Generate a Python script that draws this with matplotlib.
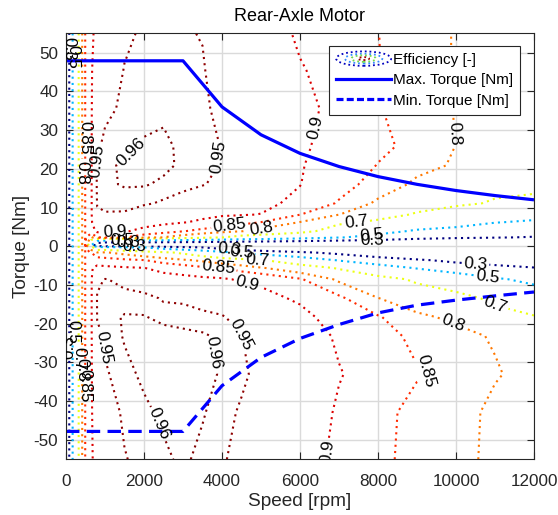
import numpy as np
import matplotlib
matplotlib.use("Agg")
import matplotlib.pyplot as plt
from matplotlib.legend_handler import HandlerBase
from matplotlib.patches import Ellipse, Patch
from matplotlib.lines import Line2D

plt.rcParams['font.family'] = ['Liberation Sans', 'DejaVu Sans']
plt.rcParams['axes.unicode_minus'] = False

# ---------------- data ----------------
speed_grid = [0, 100, 200, 300, 400, 500, 650, 800, 1000, 1500, 2000, 2500,
              3000, 3500, 4000, 4500, 5000, 6000, 7000, 8000, 9000, 10000, 11000, 12000]
torque_grid = [-55, -42.9, -33, -23.2, -18.3, -13.4, -8.5, -5.6, -3.6, -1.6, -0.3, 0.3,
               2.3, 3.9, 6.2, 8.2, 11.1, 16, 20.9, 25.8, 35.6, 45.4, 55]

low = [0, 0.36, 0.56, 0.67, 0.79, 0.855]
eff_m55 = low + [0.897, 0.91, 0.935, 0.949, 0.955, 0.958, 0.962, 0.957, 0.952, 0.944, 0.935, 0.92, 0.89, 0.865, 0.83, 0.82, 0.785, 0.79]
eff_m43 = low + [0.897, 0.92, 0.94, 0.953, 0.958, 0.962, 0.965, 0.961, 0.955, 0.948, 0.94, 0.925, 0.895, 0.87, 0.83, 0.825, 0.785, 0.785]
eff_m33 = low + [0.897, 0.93, 0.948, 0.957, 0.962, 0.965, 0.966, 0.963, 0.959, 0.953, 0.945, 0.925, 0.902, 0.885, 0.855, 0.84, 0.805, 0.78]
eff_m23 = low + [0.897, 0.945, 0.953, 0.961, 0.963, 0.963, 0.962, 0.9615, 0.958, 0.9505, 0.94, 0.92, 0.895, 0.875, 0.835, 0.815, 0.795, 0.75]
eff_m18 = low + [0.897, 0.951, 0.956, 0.961, 0.9605, 0.958, 0.957, 0.954, 0.952, 0.942, 0.93, 0.91, 0.885, 0.855, 0.81, 0.79, 0.75, 0.71]
eff_m13 = low + [0.897, 0.952, 0.953, 0.955, 0.956, 0.948, 0.947, 0.943, 0.935, 0.925, 0.91, 0.895, 0.86, 0.801, 0.77, 0.75, 0.67, 0.6]
eff_m8 = low + [0.897, 0.945, 0.951, 0.945, 0.935, 0.92, 0.915, 0.91, 0.905, 0.895, 0.893, 0.855, 0.79, 0.75, 0.68, 0.6, 0.52, 0.46]
eff_m6 = low + [0.897, 0.91, 0.91, 0.905, 0.901, 0.885, 0.875, 0.86, 0.852, 0.83, 0.805, 0.76, 0.69, 0.58, 0.49, 0.42, 0.36, 0.31]
eff_m4 = low + [0.89, 0.88, 0.87, 0.86, 0.852, 0.83, 0.81, 0.79, 0.76, 0.74, 0.71, 0.62, 0.49, 0.4, 0.33, 0.25, 0.2, 0.15]
eff_m2 = low + [0.848, 0.802, 0.805, 0.78, 0.75, 0.72, 0.68, 0.62, 0.55, 0.49, 0.43, 0.33, 0.25, 0.15, 0.05, 0, 0, 0]
eff_m0 = low + [0.75, 0.6, 0.6, 0.55, 0.505, 0.42, 0.36, 0.305, 0.2, 0.1, 0.05, 0, 0, 0, 0, 0, 0, 0]
eff_0 = low + [0.5, 0.1, 0, 0, 0, 0, 0, 0, 0, 0, 0, 0, 0, 0, 0, 0, 0, 0]
eff_p2 = low + [0.79, 0.848, 0.86, 0.852, 0.82, 0.798, 0.77, 0.74, 0.702, 0.66, 0.64, 0.58, 0.51, 0.45, 0.37, 0.33, 0.31, 0.29]
eff_p4 = low + [0.88, 0.91, 0.915, 0.905, 0.885, 0.87, 0.852, 0.835, 0.82, 0.802, 0.78, 0.74, 0.64, 0.55, 0.48, 0.45, 0.4, 0.38]
eff_p6 = low + [0.895, 0.935, 0.94, 0.935, 0.92, 0.91, 0.902, 0.893, 0.88, 0.865, 0.849, 0.798, 0.72, 0.68, 0.6, 0.56, 0.505, 0.48]
eff_p8 = low + [0.897, 0.945, 0.948, 0.948, 0.94, 0.93, 0.922, 0.91, 0.905, 0.903, 0.899, 0.851, 0.801, 0.74, 0.69, 0.64, 0.58, 0.55]
eff_p11 = low + [0.897, 0.952, 0.956, 0.955, 0.952, 0.948, 0.942, 0.936, 0.93, 0.922, 0.91, 0.89, 0.845, 0.79, 0.74, 0.72, 0.69, 0.68]
eff_p16 = low + [0.897, 0.955, 0.958, 0.961, 0.961, 0.958, 0.955, 0.951, 0.946, 0.938, 0.928, 0.901, 0.87, 0.83, 0.79, 0.76, 0.73, 0.72]
eff_p21 = low + [0.897, 0.953, 0.958, 0.9615, 0.964, 0.9625, 0.958, 0.954, 0.949, 0.942, 0.931, 0.902, 0.885, 0.848, 0.815, 0.795, 0.76, 0.73]
eff_p26 = low + [0.897, 0.947, 0.954, 0.958, 0.961, 0.962, 0.958, 0.954, 0.9495, 0.941, 0.93, 0.904, 0.89, 0.862, 0.835, 0.799, 0.775, 0.75]
eff_p36 = low + [0.897, 0.935, 0.946, 0.953, 0.957, 0.958, 0.955, 0.952, 0.947, 0.935, 0.925, 0.905, 0.895, 0.852, 0.835, 0.797, 0.78, 0.76]
eff_p45 = low + [0.897, 0.92, 0.935, 0.951, 0.953, 0.955, 0.953, 0.951, 0.944, 0.93, 0.92, 0.902, 0.89, 0.851, 0.835, 0.795, 0.775, 0.76]
eff_p55 = low + [0.897, 0.905, 0.922, 0.946, 0.953, 0.953, 0.951, 0.9495, 0.94, 0.925, 0.915, 0.896, 0.885, 0.8505, 0.835, 0.795, 0.775, 0.755]

efficiency = np.array([eff_m55, eff_m43, eff_m33, eff_m23, eff_m18, eff_m13, eff_m8,
                       eff_m6, eff_m4, eff_m2, eff_m0, eff_0, eff_p2, eff_p4, eff_p6,
                       eff_p8, eff_p11, eff_p16, eff_p21, eff_p26, eff_p36, eff_p45, eff_p55])

levels = [0.3, 0.5, 0.7, 0.8, 0.85, 0.9, 0.95, 0.96]

curve_speed = [0, 1000, 2000, 3000, 4000, 5000, 6000, 7000, 8000, 9000, 10000, 11000, 12000]
max_torque = [47.9, 47.9, 47.9, 47.9, 36.0, 28.8, 24.0, 20.6, 18.0, 16.0, 14.4, 13.1, 12.0]
min_torque = [-47.8, -47.8, -47.8, -47.8, -36.0, -28.7, -23.8, -20.2, -17.2, -15.2, -13.9, -12.8, -11.8]

x_ticks = [0, 2000, 4000, 6000, 8000, 10000, 12000]
y_ticks = [-50, -40, -30, -20, -10, 0, 10, 20, 30, 40, 50]

# label anchor points (data coordinates)
label_spots = [(85, 51), (170, 49), (420, 19), (492, 28), (800, 22), (1650, 24.4),
               (3900, 23), (6450, 30.7), (9880, 29.0), (1250, 3.6), (1450, 1.5),
               (1600, 1.0), (1750, 0.7), (4200, 5.0), (5000, 4.6), (7450, 5.3),
               (7850, 3.0), (7850, 1.4),
               (4200, -0.7), (4500, -1.7), (4900, -3.4), (3900, -5.6), (4650, -9.3),
               (10500, -4.5), (10800, -8.1), (11000, -15.3), (9900, -20.3), (9250, -32),
               (6700, -53), (4550, -22.2), (3850, -27.3), (2350, -46), (980, -26.2),
               (83, -26), (170, -22), (325, -29), (415, -32), (492, -36)]


def matlab_jet(x):
    r = np.clip(1.5 - abs(4 * x - 3), 0, 1)
    g = np.clip(1.5 - abs(4 * x - 2), 0, 1)
    b = np.clip(1.5 - abs(4 * x - 1), 0, 1)
    return (float(r), float(g), float(b))


lev_colors = [matlab_jet((l - levels[0]) / (levels[-1] - levels[0])) for l in levels]
ink = '#262626'

# ---------------- figure ----------------
fig = plt.figure(figsize=(5.58, 5.15), dpi=100)
ax = fig.add_axes([66 / 558, 1 - 459.3 / 515, 468 / 558, 426 / 515])

ax.set_axisbelow(True)
ax.grid(True, color='#dadada', linewidth=1.0)

dot = (0, (1, 2.0))
cs = ax.contour(speed_grid, torque_grid, efficiency, levels=levels,
                colors=lev_colors, linewidths=1.5, linestyles='dotted')
try:
    cs.set_linestyle(dot)
except Exception:
    pass
cs.clabel(levels, manual=label_spots, inline=True, inline_spacing=2,
          fontsize=12.3, fmt='%g', colors='black')

ax.plot(curve_speed, max_torque, color=(0, 0, 1), linewidth=2.3, solid_capstyle='butt')
ax.plot(curve_speed, min_torque, color=(0, 0, 1), linewidth=2.3,
        linestyle=(0, (4.2, 2.3)), dash_capstyle='butt')

ax.set_xlim(0, 12000)
ax.set_ylim(-55, 55)
ax.set_xticks(x_ticks)
ax.set_yticks(y_ticks)
ax.set_xticklabels([str(v) for v in x_ticks])
ax.set_yticklabels([str(v) for v in y_ticks])
ax.tick_params(direction='in', top=True, right=True, length=5, width=0.8,
               labelsize=12.3, colors=ink, labelcolor=ink)
ax.tick_params(axis='x', pad=10.5)
ax.tick_params(axis='y', pad=5.5)
for s in ax.spines.values():
    s.set_color(ink)
    s.set_linewidth(0.8)

ax.set_xlabel('Speed [rpm]', fontsize=13.7, color=ink, labelpad=3)
ax.set_ylabel('Torque [Nm]', fontsize=13.7, color=ink, labelpad=3)
ax.set_title('Rear-Axle Motor', fontsize=13, color='#000000', pad=9)


class ContourIcon(HandlerBase):
    def create_artists(self, legend, orig_handle, xdescent, ydescent, width,
                       height, fontsize, trans):
        cx = 0.5 * width - xdescent
        cy = 0.5 * height - ydescent
        out = []
        for s, c in [(1.0, (0, 0, 0.75)), (0.68, (0.2, 0.55, 1.0)),
                     (0.45, (0.45, 0.85, 0.3)), (0.2, (0.6, 0, 0))]:
            e = Ellipse((cx, cy), width * s, height * 1.35 * s, fill=False,
                        edgecolor=c, linestyle=(0, (1, 1.6)), linewidth=1.3)
            e.set_transform(trans)
            out.append(e)
        return out


eff_proxy = Patch()
h_max = Line2D([], [], color=(0, 0, 1), linewidth=2.3)
h_min = Line2D([], [], color=(0, 0, 1), linewidth=2.3, linestyle=(0, (2.2, 1.0)))
leg = ax.legend([eff_proxy, h_max, h_min],
                ['Efficiency [-]', 'Max. Torque [Nm]', 'Min. Torque [Nm]'],
                handler_map={eff_proxy: ContourIcon()},
                loc='upper right', bbox_to_anchor=(0.970, 0.970), borderaxespad=0,
                fontsize=11, handlelength=3.6, handletextpad=0.12,
                labelspacing=0.42, borderpad=0.45, fancybox=False,
                edgecolor=ink, framealpha=1)
leg.get_frame().set_linewidth(0.8)

fig.savefig('out.png', dpi=100)
